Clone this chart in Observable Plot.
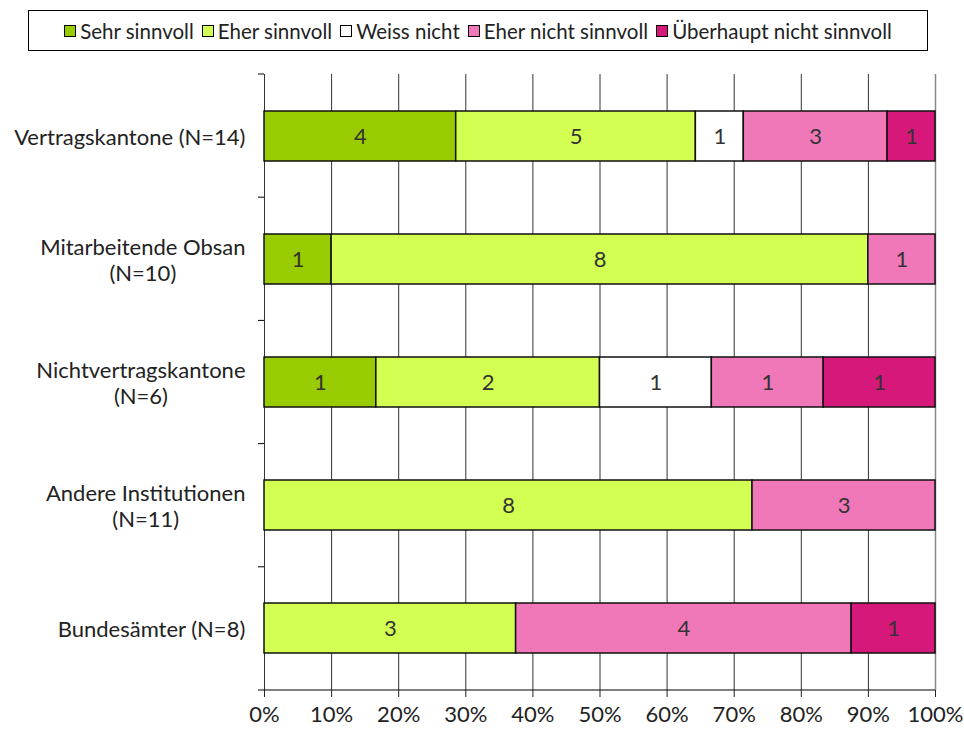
<!DOCTYPE html>
<html><head><meta charset="utf-8">
<script src="https://cdn.jsdelivr.net/npm/d3@7"></script>
<script src="https://cdn.jsdelivr.net/npm/@observablehq/plot@0.6"></script>
<style>
body{margin:0;background:#fff;font-family:Lato,sans-serif;}
#legend{position:absolute;left:28px;top:10px;width:898px;height:39px;border:1px solid #000;display:flex;align-items:center;justify-content:center;gap:8px;font-size:20.5px;color:#222;box-sizing:content-box;white-space:nowrap}
.item{display:flex;align-items:center;gap:4px}
.sw{width:10px;height:10px;border:1.5px solid #000}
#chart{position:absolute;left:0;top:60px}
</style></head><body>
<div id="legend"></div>
<div id="chart"></div>
<script>
const groups = ["Vertragskantone (N=14)", "Mitarbeitende Obsan\n(N=10)", "Nichtvertragskantone\n(N=6)", "Andere Institutionen\n(N=11)", "Bundesämter (N=8)"];
const responses = ["Sehr sinnvoll", "Eher sinnvoll", "Weiss nicht", "Eher nicht sinnvoll", "Überhaupt nicht sinnvoll"];
const colors = ["#99CC00", "#D2FF52", "#FFFFFF", "#F078B9", "#D6187A"];
const sehrSinnvoll = [4, 1, 1, 0, 0];
const eherSinnvoll = [5, 8, 2, 8, 3];
const weissNicht = [1, 0, 1, 0, 0];
const eherNichtSinnvoll = [3, 1, 1, 3, 4];
const ueberhauptNicht = [1, 0, 1, 0, 1];
const xTicks = [0, 0.1, 0.2, 0.3, 0.4, 0.5, 0.6, 0.7, 0.8, 0.9, 1];

const series = [sehrSinnvoll, eherSinnvoll, weissNicht, eherNichtSinnvoll, ueberhauptNicht];
const data = [];
groups.forEach((g, i) => series.forEach((s, j) => { if (s[i] > 0) data.push({group: g, response: responses[j], value: s[i]}); }));

// legend
const leg = document.getElementById("legend");
responses.forEach((r, j) => {
  const it = document.createElement("div"); it.className = "item";
  const sw = document.createElement("div"); sw.className = "sw"; sw.style.background = colors[j];
  const t = document.createElement("span"); t.textContent = r;
  it.append(sw, t); leg.append(it);
});

const FS = 22;
const ctx = document.createElement("canvas").getContext("2d");
ctx.font = FS + "px Lato";
const labelWidth = g => d3.max(g.split("\n"), l => ctx.measureText(l).width);

const boundaryTicks = (index, scales, values, dims) => {
  const g = d3.create("svg:g");
  const top = dims.marginTop, bottom = dims.height - dims.marginBottom;
  const left = dims.marginLeft, right = dims.width - dims.marginRight;
  const n = groups.length;
  for (let k = 0; k <= n; k++) {
    const y = top + k * (bottom - top) / n;
    g.append("line").attr("x1", left - 6).attr("x2", left).attr("y1", y).attr("y2", y).attr("stroke", "#000");
  }
  g.append("line").attr("x1", left).attr("x2", right).attr("y1", bottom).attr("y2", bottom).attr("stroke", "#000");
  return g.node();
};

const chart = Plot.plot({
  width: 964,
  height: 675,
  marginTop: 14,
  marginBottom: 45,
  marginLeft: 264,
  marginRight: 29,
  style: {fontFamily: "Lato, sans-serif", fontSize: FS + "px", color: "#222", background: "#fff"},
  x: {domain: [0, 1], axis: null},
  y: {domain: groups, axis: null, paddingInner: 0.594, paddingOuter: 0.297},
  color: {domain: responses, range: colors},
  marks: [
    Plot.ruleX(xTicks.filter(d => d < 1), {stroke: "#333", strokeWidth: 1}),
    Plot.ruleX([1], {stroke: "#888", strokeWidth: 1.5}),
    Plot.barX(data, Plot.stackX({x: "value", y: "group", fill: "response", order: responses, offset: "normalize", stroke: "#111", strokeWidth: 1.5})),
    Plot.text(data, Plot.stackX({x: "value", y: "group", z: "response", order: responses, offset: "normalize", text: d => String(d.value), fill: "#333", fontSize: FS})),
    ...groups.map(g => Plot.text([g], {y: d => d, text: d => d, frameAnchor: "left", textAnchor: "middle", dx: -19 - labelWidth(g) / 2, lineHeight: 1.18, fill: "#222", fontSize: FS})),
    boundaryTicks,
    Plot.axisX({ticks: xTicks, tickFormat: d3.format(".0%"), tickSize: 7, tickPadding: 9, fontSize: FS, label: null})
  ]
});
document.getElementById("chart").append(chart);
</script>
</body></html>
